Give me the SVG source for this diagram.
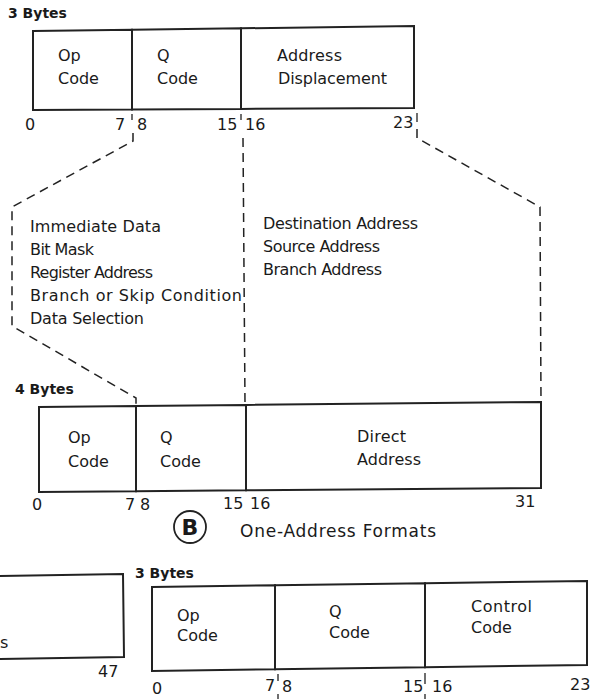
<svg xmlns="http://www.w3.org/2000/svg" width="593" height="699" viewBox="0 0 593 699">
<style>
  text { font-family: "DejaVu Sans", "Liberation Sans", sans-serif; fill: #1a1a1a; }
  .lbl { font-size: 16px; }
  .num { font-size: 16px; }
  .hdr { font-size: 14px; font-weight: bold; }
  .box { fill: none; stroke: #222; stroke-width: 2; stroke-linejoin: miter; }
  .dash { fill: none; stroke: #222; stroke-width: 1.5; stroke-dasharray: 9 6; }
  .tick { fill: none; stroke: #222; stroke-width: 1.3; }
</style>
<rect width="593" height="699" fill="#ffffff"/>

<!-- Top 3-byte format -->
<g id="fmt-top">
  <text class="hdr" x="8" y="18">3 Bytes</text>
  <g id="top-op">
    <polygon class="box" points="33,31 132,29.7 132,109.5 33,110"/>
    <text class="lbl" x="58" y="61">Op</text>
    <text class="lbl" x="58" y="84">Code</text>
  </g>
  <g id="top-q">
    <polygon class="box" points="132,29.7 241,28.3 241,108.9 132,109.5"/>
    <text class="lbl" x="157" y="61">Q</text>
    <text class="lbl" x="157" y="84">Code</text>
  </g>
  <g id="top-addr">
    <polygon class="box" points="241,28.3 414,26 414,108 241,108.9"/>
    <text class="lbl" x="277" y="61" textLength="65">Address</text>
    <text class="lbl" x="278" y="84" textLength="109">Displacement</text>
  </g>
  <text class="num" x="25" y="130">0</text>
  <text class="num" x="115" y="130">7</text>
  <text class="num" x="137" y="130">8</text>
  <text class="num" x="217" y="130">15</text>
  <text class="num" x="245" y="130">16</text>
  <text class="num" x="393" y="128">23</text>
  <path class="tick" d="M132,114 V120 M241,114 V120 M417,113 V122"/>
</g>

<!-- Connectors -->
<g id="connectors">
  <path class="dash" d="M133,133 L133,141 L12,207 L12,326 L136,398 L136,406"/>
  <path class="dash" d="M243,138 L245,404"/>
  <path class="dash" d="M417,129 L417,138 L540,207 L541,402"/>
  <path class="tick" d="M278,674 V681 M278,694 V699 M425,673 V684 M425,694 V699"/>
</g>

<!-- Field option lists -->
<g id="list-left">
  <text class="lbl" x="30" y="232" textLength="131">Immediate Data</text>
  <text class="lbl" x="30" y="255" textLength="64">Bit Mask</text>
  <text class="lbl" x="30" y="278" textLength="123">Register Address</text>
  <text class="lbl" x="30" y="301" textLength="212">Branch or Skip Condition</text>
  <text class="lbl" x="30" y="324" textLength="114">Data Selection</text>
</g>
<g id="list-right">
  <text class="lbl" x="263" y="229" textLength="155">Destination Address</text>
  <text class="lbl" x="263" y="252" textLength="117">Source Address</text>
  <text class="lbl" x="263" y="275" textLength="119">Branch Address</text>
</g>

<!-- 4-byte format -->
<g id="fmt-4">
  <text class="hdr" x="15" y="394">4 Bytes</text>
  <g id="b4-op">
    <polygon class="box" points="39,407 136,406 136,491.2 39,492"/>
    <text class="lbl" x="68" y="443">Op</text>
    <text class="lbl" x="68" y="467">Code</text>
  </g>
  <g id="b4-q">
    <polygon class="box" points="136,406 246,404.9 246,490.3 136,491.2"/>
    <text class="lbl" x="160" y="443">Q</text>
    <text class="lbl" x="160" y="467">Code</text>
  </g>
  <g id="b4-addr">
    <polygon class="box" points="246,404.9 541,402 541,488 246,490.3"/>
    <text class="lbl" x="357" y="442" textLength="49">Direct</text>
    <text class="lbl" x="357" y="465" textLength="64">Address</text>
  </g>
  <text class="num" x="32" y="510">0</text>
  <text class="num" x="125" y="510">7</text>
  <text class="num" x="140" y="510">8</text>
  <text class="num" x="223" y="509">15</text>
  <text class="num" x="250" y="509">16</text>
  <text class="num" x="515" y="507">31</text>
</g>

<!-- Caption -->
<g id="caption">
  <circle cx="190" cy="527" r="16" fill="none" stroke="#222" stroke-width="1.8"/>
  <text x="190" y="535" text-anchor="middle" style="font-size:22px;font-weight:bold">B</text>
  <text x="240" y="537" style="font-size:17px" textLength="196">One-Address Formats</text>
</g>

<!-- Partial box, bottom left -->
<g id="fmt-partial">
  <polyline class="box" points="-3,576 123,574 124,657 -3,659"/>
  <text class="lbl" x="0" y="648">s</text>
  <text class="num" x="98" y="677">47</text>
</g>

<!-- Bottom 3-byte format -->
<g id="fmt-bottom">
  <text class="hdr" x="135" y="578">3 Bytes</text>
  <g id="bot-op">
    <polygon class="box" points="152,587 275,585.3 275,669.3 152,671"/>
    <text class="lbl" x="177" y="621">Op</text>
    <text class="lbl" x="177" y="641">Code</text>
  </g>
  <g id="bot-q">
    <polygon class="box" points="275,585.3 425,583.2 425,667.2 275,669.3"/>
    <text class="lbl" x="329" y="617">Q</text>
    <text class="lbl" x="329" y="638">Code</text>
  </g>
  <g id="bot-ctl">
    <polygon class="box" points="425,583.2 587,581 587,665 425,667.2"/>
    <text class="lbl" x="471" y="612" textLength="61">Control</text>
    <text class="lbl" x="471" y="633">Code</text>
  </g>
  <text class="num" x="152" y="694">0</text>
  <text class="num" x="265" y="691">7</text>
  <text class="num" x="282" y="692">8</text>
  <text class="num" x="403" y="692">15</text>
  <text class="num" x="432" y="692">16</text>
  <text class="num" x="570" y="690">23</text>
</g>
</svg>
